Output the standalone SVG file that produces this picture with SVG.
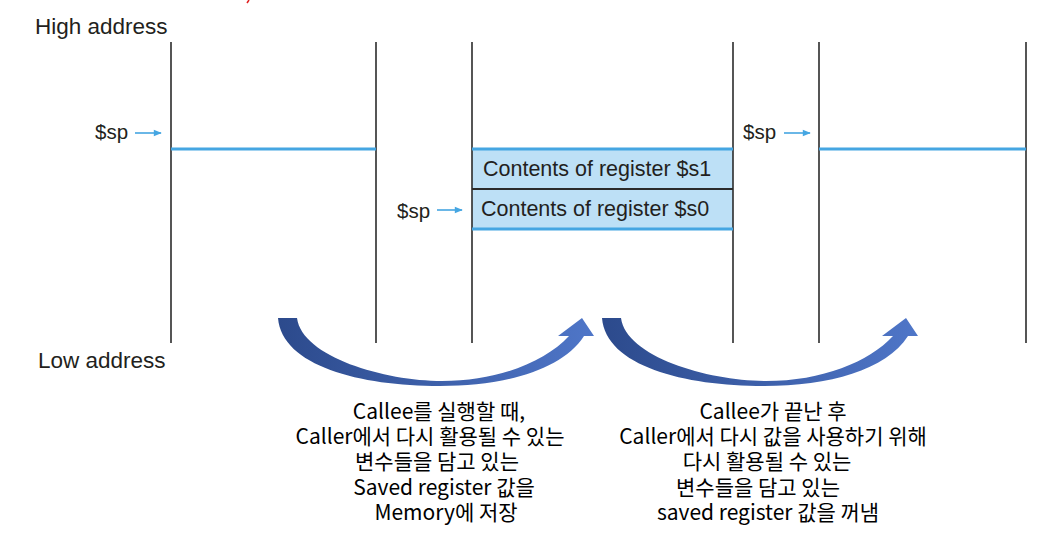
<svg xmlns="http://www.w3.org/2000/svg" width="1054" height="534" viewBox="0 0 1054 534">
<style>
.lbl{font-family:"Liberation Sans",Arial,sans-serif;font-size:22.5px;fill:#231f20}
.sp{font-family:"Liberation Sans",Arial,sans-serif;font-size:20.5px;fill:#231f20}
.reg{font-family:"Liberation Sans",Arial,sans-serif;font-size:21.5px;fill:#231f20}
.kr{font-family:"Noto Sans CJK KR",sans-serif;font-size:21px;fill:#000;text-anchor:middle}
.vl{stroke:#2b2b2b;stroke-width:1.6}
.bl{stroke:#45a6e2;stroke-width:3}
.arr{stroke:#45a6e2;stroke-width:1.6;marker-end:url(#ah)}
</style>
<defs>
<marker id="ah" viewBox="0 0 10 10" refX="9" refY="5" markerWidth="9" markerHeight="8" markerUnits="userSpaceOnUse" orient="auto">
<path d="M0,1 L10,5 L0,9 Z" fill="#45a6e2"/>
</marker>
<linearGradient id="cg" x1="0" y1="0" x2="1" y2="0">
<stop offset="0" stop-color="#2c4a8c"/>
<stop offset="1" stop-color="#4f76c8"/>
</linearGradient>
<path id="curve" d="M 278,318 L 297,318 C 302,357 385,381 442,381 C 498,381 545,362 569,336 L 558,336 L 582,318 L 594,336 L 584,336 C 562,370 505,386 440,386 C 360,386 282,366 278,318 Z" fill="url(#cg)"/>
</defs>
<path d="M249,0 L247,3" stroke="#e02020" stroke-width="1.5" fill="none"/>
<g id="labels">
<text class="lbl" x="35" y="34">High address</text>
<text class="lbl" x="38" y="368">Low address</text>
</g>
<g id="stack-before">
<line class="vl" x1="171" y1="42" x2="171" y2="343"/>
<line class="vl" x1="376" y1="42" x2="376" y2="343"/>
<line class="bl" x1="171" y1="149" x2="376" y2="149"/>
<text class="sp" x="95" y="139">$sp</text>
</g>
<g id="stack-during">
<rect x="472" y="149" width="261" height="80" fill="#bde0f6"/>
<line class="vl" x1="472" y1="42" x2="472" y2="343"/>
<line class="vl" x1="733" y1="42" x2="733" y2="343"/>
<line class="bl" x1="472" y1="149" x2="733" y2="149"/>
<line x1="472" y1="189" x2="733" y2="189" stroke="#2b2b2b" stroke-width="2"/>
<line class="bl" x1="472" y1="229" x2="733" y2="229"/>
<text class="reg" x="483" y="176">Contents of register $s1</text>
<text class="reg" x="481" y="216">Contents of register $s0</text>
<text class="sp" x="397" y="218">$sp</text>
</g>
<g id="stack-after">
<line class="vl" x1="819" y1="42" x2="819" y2="343"/>
<line class="vl" x1="1026" y1="42" x2="1026" y2="343"/>
<line class="bl" x1="819" y1="149" x2="1026" y2="149"/>
<text class="sp" x="743" y="139">$sp</text>
</g>
<g id="connectors">
<line class="arr" x1="135" y1="133" x2="161" y2="133"/>
<line class="arr" x1="437" y1="210" x2="462" y2="210"/>
<line class="arr" x1="784" y1="133" x2="810" y2="133"/>
<use href="#curve"/>
<use href="#curve" transform="translate(324,0)"/>
</g>
<g id="note-save">
<text class="kr"><tspan x="439" y="419">Callee를 실행할 때,</tspan><tspan x="430" y="444">Caller에서 다시 활용될 수 있는</tspan><tspan x="437" y="469">변수들을 담고 있는</tspan><tspan x="444" y="495">Saved register 값을</tspan><tspan x="446" y="520">Memory에 저장</tspan></text>
</g>
<g id="note-restore">
<text class="kr"><tspan x="773" y="419">Callee가 끝난 후</tspan><tspan x="773" y="444">Caller에서 다시 값을 사용하기 위해</tspan><tspan x="767" y="469">다시 활용될 수 있는</tspan><tspan x="758" y="495">변수들을 담고 있는</tspan><tspan x="768" y="520">saved register 값을 꺼냄</tspan></text>
</g>
</svg>
